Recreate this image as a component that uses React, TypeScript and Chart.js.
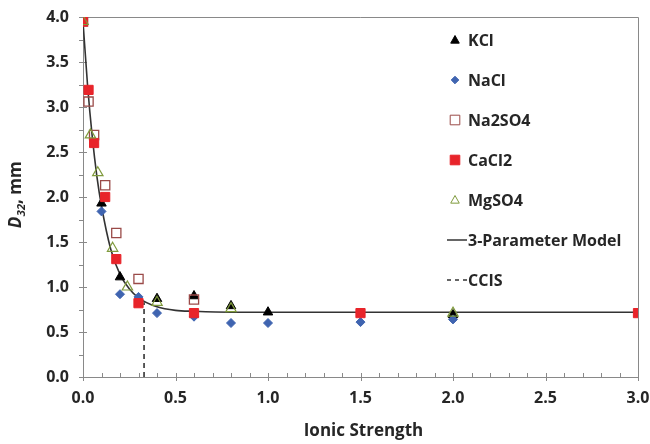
import React, { useEffect, useRef } from "react";
import { Chart, registerables } from "chart.js";

Chart.register(...registerables);

// ---- Data ----
const kclX = [0, 0.1, 0.2, 0.4, 0.6, 0.8, 1.0, 2.0];
const kclY = [3.95, 1.93, 1.11, 0.87, 0.9, 0.79, 0.72, 0.69];

const naclX = [0, 0.1, 0.2, 0.3, 0.4, 0.6, 0.8, 1.0, 1.5, 2.0];
const naclY = [3.95, 1.84, 0.92, 0.89, 0.71, 0.67, 0.6, 0.6, 0.61, 0.64];

const na2so4X = [0, 0.03, 0.06, 0.12, 0.18, 0.3, 0.6];
const na2so4Y = [3.95, 3.06, 2.69, 2.13, 1.6, 1.09, 0.86];

const cacl2X = [0, 0.03, 0.06, 0.12, 0.18, 0.3, 0.6, 1.5, 3.0];
const cacl2Y = [3.95, 3.19, 2.6, 2.0, 1.31, 0.82, 0.71, 0.71, 0.71];

const mgso4X = [0, 0.04, 0.08, 0.16, 0.24, 0.4, 0.8, 2.0];
const mgso4Y = [3.95, 2.69, 2.27, 1.43, 1.0, 0.83, 0.76, 0.71];

const modelX = [0, 0.025, 0.05, 0.075, 0.1, 0.15, 0.2, 0.25, 0.3, 0.4, 0.5, 0.6, 0.8, 1.0, 2.0, 3.0];
const modelY = [3.95, 3.23, 2.67, 2.23, 1.9, 1.42, 1.14, 0.98, 0.88, 0.78, 0.74, 0.73, 0.72, 0.72, 0.72, 0.72];

const ccisX = [0.33, 0.33];
const ccisY = [0, 0.83];

const xTickLabels = ["0.0", "0.5", "1.0", "1.5", "2.0", "2.5", "3.0"];
const yTickLabels = ["0.0", "0.5", "1.0", "1.5", "2.0", "2.5", "3.0", "3.5", "4.0"];
const xMinorStep = 0.1;
const yMinorStep = 0.25;

const legendNames = ["KCl", "NaCl", "Na2SO4", "CaCl2", "MgSO4", "3-Parameter Model", "CCIS"];

const pts = (xs: number[], ys: number[]) => xs.map((x, i) => ({ x, y: ys[i] }));

const FONT = "'Open Sans', Lato, sans-serif";
const AXIS = "#898989";
const TEXT = "#262626";

const isMajor = (v: number) => Math.abs(v * 2 - Math.round(v * 2)) < 1e-6;

function drawMarker(ctx: CanvasRenderingContext2D, style: string, x: number, y: number, r: number) {
  ctx.beginPath();
  if (style === "triangle") {
    ctx.moveTo(x, y - r);
    ctx.lineTo(x + r * 0.95, y + r * 0.7);
    ctx.lineTo(x - r * 0.95, y + r * 0.7);
    ctx.closePath();
  } else if (style === "rectRot") {
    ctx.moveTo(x, y - r);
    ctx.lineTo(x + r, y);
    ctx.lineTo(x, y + r);
    ctx.lineTo(x - r, y);
    ctx.closePath();
  } else {
    ctx.rect(x - r, y - r, 2 * r, 2 * r);
  }
  ctx.fill();
  ctx.stroke();
}

const customPlugin = {
  id: "custom",
  beforeDatasetsDraw(chart: any) {
    const ctx = chart.ctx;
    const ca = chart.chartArea;
    const xs = chart.scales.x;
    const ys = chart.scales.y;
    ctx.save();
    ctx.strokeStyle = AXIS;
    ctx.lineWidth = 1;
    // frame top & right
    ctx.beginPath();
    ctx.moveTo(ca.left, ca.top + 0.5);
    ctx.lineTo(ca.right + 0.5, ca.top + 0.5);
    ctx.lineTo(ca.right + 0.5, ca.bottom);
    ctx.stroke();
    // x ticks
    const nx = Math.round((xs.max - xs.min) / xMinorStep);
    ctx.beginPath();
    for (let i = 0; i <= nx; i++) {
      const v = xs.min + i * xMinorStep;
      const px = Math.round(xs.getPixelForValue(v)) + 0.5;
      const b = ca.bottom;
      if (isMajor(v)) {
        ctx.moveTo(px, b - 4);
        ctx.lineTo(px, b + 4);
      } else {
        ctx.moveTo(px, b - 4);
        ctx.lineTo(px, b);
      }
    }
    // y ticks
    const ny = Math.round((ys.max - ys.min) / yMinorStep);
    for (let i = 0; i <= ny; i++) {
      const v = ys.min + i * yMinorStep;
      const py = Math.round(ys.getPixelForValue(v)) + 0.5;
      const l = ca.left;
      if (isMajor(v)) {
        ctx.moveTo(l - 4, py);
        ctx.lineTo(l + 4, py);
      } else {
        ctx.moveTo(l - 4, py);
        ctx.lineTo(l, py);
      }
    }
    ctx.stroke();
    ctx.restore();
  },
  afterDraw(chart: any) {
    const ctx = chart.ctx;
    const ca = chart.chartArea;
    ctx.save();

    // legend
    const mx = ca.left + 372;
    const tx = ca.left + 385;
    const y0 = ca.top + 23;
    const step = 40;
    ctx.font = `bold 16px ${FONT}`;
    ctx.textBaseline = "middle";
    ctx.textAlign = "left";
    legendNames.forEach((name, i) => {
      const y = y0 + i * step;
      const ds = chart.data.datasets[i];
      if (i < 5) {
        ctx.save();
        ctx.fillStyle = ds.pointBackgroundColor;
        ctx.strokeStyle = ds.pointBorderColor;
        ctx.lineWidth = 1;
        const r = ds.pointStyle === "rectRot" ? 3.8 : ds.pointStyle === "triangle" ? 4.5 : 4.8;
        drawMarker(ctx, ds.pointStyle, mx, y, r);
        ctx.restore();
      } else {
        ctx.save();
        ctx.strokeStyle = "#333";
        ctx.lineWidth = 1.5;
        if (i === 6) ctx.setLineDash([4, 4]);
        ctx.beginPath();
        ctx.moveTo(mx - 8, y);
        ctx.lineTo(mx + 12, y);
        ctx.stroke();
        ctx.restore();
      }
      ctx.fillStyle = TEXT;
      ctx.fillText(name, i < 5 ? tx : mx + 13, y + 1);
    });

    // x title
    ctx.textAlign = "center";
    ctx.textBaseline = "middle";
    ctx.fillStyle = TEXT;
    ctx.font = `bold 17px ${FONT}`;
    ctx.fillText("Ionic Strength", (ca.left + ca.right) / 2 + 3, 431);

    // y title
    ctx.save();
    ctx.translate(15, 195);
    ctx.rotate(-Math.PI / 2);
    const fMain = `italic bold 17px ${FONT}`;
    const fSub = `italic bold 11px ${FONT}`;
    const fRest = `bold 17px ${FONT}`;
    ctx.font = fMain;
    const wD = ctx.measureText("D").width;
    ctx.font = fSub;
    const wS = ctx.measureText("32").width;
    ctx.font = fRest;
    const wR = ctx.measureText(", mm").width;
    let x = -(wD + wS + wR) / 2;
    ctx.textAlign = "left";
    ctx.textBaseline = "alphabetic";
    ctx.font = fMain;
    ctx.fillText("D", x, 6);
    x += wD + 0.5;
    ctx.font = fSub;
    ctx.fillText("32", x, 10);
    x += wS;
    ctx.font = fRest;
    ctx.fillText(", mm", x, 6);
    ctx.restore();

    ctx.restore();
  },
};

export default function App() {
  const ref = useRef<HTMLCanvasElement | null>(null);

  useEffect(() => {
    if (!ref.current) return;
    const chart = new Chart(ref.current, {
      type: "scatter",
      data: {
        datasets: [
          {
            label: legendNames[0],
            data: pts(kclX, kclY),
            pointStyle: "triangle",
            pointRadius: 5.5,
            pointBackgroundColor: "#000000",
            pointBorderColor: "#000000",
            backgroundColor: "#000000",
            borderColor: "#000000",
            order: 4,
          },
          {
            label: legendNames[1],
            data: pts(naclX, naclY),
            pointStyle: "rectRot",
            pointRadius: 4.5,
            pointBackgroundColor: "#3f64b0",
            pointBorderColor: "#3f64b0",
            backgroundColor: "#3f64b0",
            borderColor: "#3f64b0",
            order: 3,
          },
          {
            label: legendNames[2],
            data: pts(na2so4X, na2so4Y),
            pointStyle: "rect",
            pointRadius: 6.5,
            pointBorderWidth: 1.3,
            pointBackgroundColor: "rgba(255,255,255,0)",
            pointBorderColor: "#9a4a48",
            backgroundColor: "rgba(255,255,255,0)",
            borderColor: "#9a4a48",
            order: 2,
          },
          {
            label: legendNames[3],
            data: pts(cacl2X, cacl2Y),
            pointStyle: "rect",
            pointRadius: 6.5,
            pointBackgroundColor: "#e8242a",
            pointBorderColor: "#e8242a",
            backgroundColor: "#e8242a",
            borderColor: "#e8242a",
            order: 1,
          },
          {
            label: legendNames[4],
            data: pts(mgso4X, mgso4Y),
            pointStyle: "triangle",
            pointRadius: 6,
            pointBorderWidth: 1.2,
            pointBackgroundColor: "rgba(255,255,255,0)",
            pointBorderColor: "#7f9a3c",
            backgroundColor: "rgba(255,255,255,0)",
            borderColor: "#7f9a3c",
            order: 0,
          },
          {
            label: legendNames[5],
            data: pts(modelX, modelY),
            showLine: true,
            pointRadius: 0,
            borderColor: "#333333",
            borderWidth: 1.6,
            cubicInterpolationMode: "monotone",
            order: 6,
          },
          {
            label: legendNames[6],
            data: pts(ccisX, ccisY),
            showLine: true,
            pointRadius: 0,
            borderColor: "#333333",
            borderWidth: 1.6,
            borderDash: [5, 4],
            order: 5,
          },
        ],
      },
      options: {
        responsive: false,
        animation: false,
        layout: { padding: { top: 17, right: 12, left: 0, bottom: 0 } },
        plugins: {
          legend: { display: false },
          tooltip: { enabled: false },
        },
        scales: {
          x: {
            type: "linear",
            min: 0,
            max: 3,
            afterFit: (s: any) => {
              s.height = 67;
              s.paddingLeft = 0;
              s.paddingRight = 0;
            },
            ticks: {
              stepSize: 0.5,
              autoSkip: false,
              maxRotation: 0,
              padding: 12,
              color: TEXT,
              font: { family: FONT, size: 16, weight: "bold" },
              callback: (v: any) => xTickLabels[Math.round(Number(v) * 2)] ?? "",
            },
            grid: {
              drawOnChartArea: false,
              drawTicks: false,
              color: AXIS,
            },
            border: { color: AXIS, width: 1 },
          },
          y: {
            type: "linear",
            min: 0,
            max: 4,
            afterFit: (s: any) => {
              s.width = 83;
              s.paddingTop = 0;
              s.paddingBottom = 0;
            },
            ticks: {
              stepSize: 0.5,
              autoSkip: false,
              padding: 14,
              color: TEXT,
              font: { family: FONT, size: 16, weight: "bold" },
              callback: (v: any) => yTickLabels[Math.round(Number(v) * 2)] ?? "",
            },
            grid: {
              drawOnChartArea: false,
              drawTicks: false,
              color: AXIS,
            },
            border: { color: AXIS, width: 1 },
          },
        },
      },
      plugins: [customPlugin],
    } as any);
    return () => chart.destroy();
  }, []);

  return (
    <div style={{ position: "absolute", left: 0, top: 0, width: 650, height: 444, background: "#fff" }}>
      <canvas ref={ref} width={650} height={444} style={{ display: "block" }} />
    </div>
  );
}
